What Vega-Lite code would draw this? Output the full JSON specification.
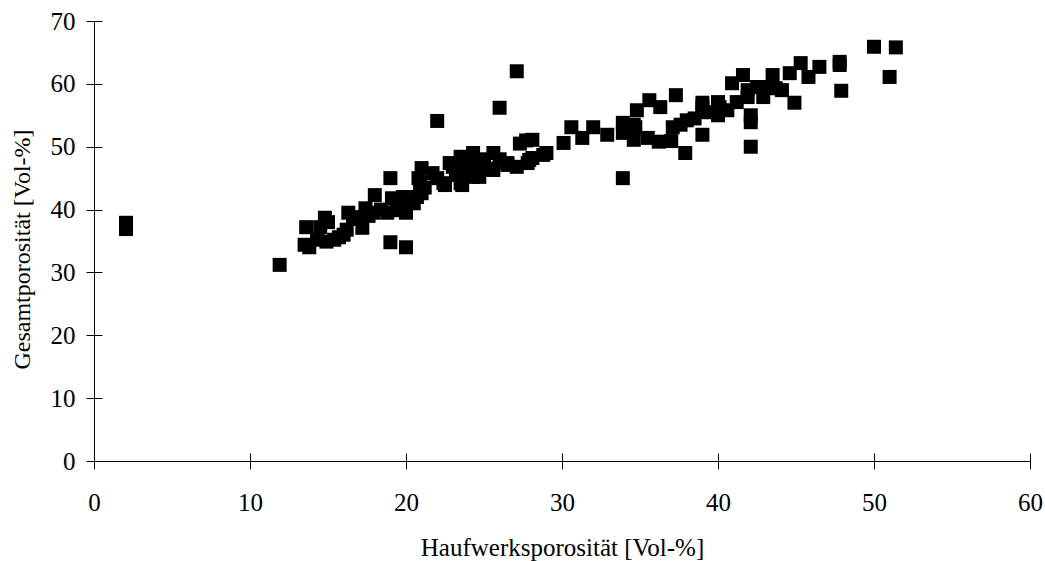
{
  "$schema": "https://vega.github.io/schema/vega-lite/v6.json",
  "width": 936,
  "height": 440,
  "autosize": "none",
  "padding": {"left": 94, "top": 21, "right": 15, "bottom": 100},
  "background": "white",
  "config": {
    "view": {"stroke": null},
    "font": "Liberation Serif"
  },
  "data": {
    "values": [
      {"h": 2.05, "g": 37.9}, {"h": 2.05, "g": 36.9}, {"h": 11.9, "g": 31.2},
      {"h": 13.5, "g": 34.4}, {"h": 13.6, "g": 37.2}, {"h": 13.8, "g": 34.0}, {"h": 14.3, "g": 35.2},
      {"h": 14.5, "g": 37.2}, {"h": 14.8, "g": 38.7}, {"h": 14.9, "g": 34.9}, {"h": 15.0, "g": 38.0},
      {"h": 15.4, "g": 35.2}, {"h": 15.7, "g": 35.6}, {"h": 16.0, "g": 36.0}, {"h": 16.2, "g": 36.8},
      {"h": 16.3, "g": 39.5}, {"h": 16.6, "g": 38.5}, {"h": 17.1, "g": 38.8}, {"h": 17.2, "g": 37.1},
      {"h": 17.4, "g": 40.2}, {"h": 17.6, "g": 39.0}, {"h": 17.9, "g": 39.5}, {"h": 18.0, "g": 42.3},
      {"h": 18.4, "g": 40.0}, {"h": 18.8, "g": 39.5}, {"h": 19.0, "g": 45.0}, {"h": 19.0, "g": 34.8},
      {"h": 19.1, "g": 41.8}, {"h": 19.4, "g": 39.9}, {"h": 19.6, "g": 41.0}, {"h": 19.8, "g": 42.0},
      {"h": 20.0, "g": 39.5}, {"h": 20.0, "g": 34.0}, {"h": 20.1, "g": 41.5}, {"h": 20.5, "g": 41.0},
      {"h": 20.7, "g": 42.0}, {"h": 21.0, "g": 42.6}, {"h": 20.9, "g": 44.2}, {"h": 21.0, "g": 46.6},
      {"h": 20.8, "g": 45.0}, {"h": 21.2, "g": 43.5}, {"h": 21.7, "g": 45.8}, {"h": 22.0, "g": 45.0},
      {"h": 22.0, "g": 54.1}, {"h": 22.4, "g": 44.2}, {"h": 22.5, "g": 43.9}, {"h": 22.8, "g": 47.4},
      {"h": 23.0, "g": 46.8}, {"h": 23.2, "g": 45.5}, {"h": 23.5, "g": 44.2}, {"h": 23.6, "g": 43.9},
      {"h": 23.7, "g": 46.3}, {"h": 23.5, "g": 48.4}, {"h": 24.0, "g": 47.0}, {"h": 24.3, "g": 45.2},
      {"h": 24.3, "g": 49.0}, {"h": 24.7, "g": 47.4}, {"h": 24.7, "g": 45.2}, {"h": 25.0, "g": 48.0},
      {"h": 25.2, "g": 46.5}, {"h": 25.6, "g": 46.3}, {"h": 25.6, "g": 49.0}, {"h": 26.0, "g": 48.0},
      {"h": 26.0, "g": 56.2}, {"h": 26.5, "g": 47.4}, {"h": 26.5, "g": 47.1}, {"h": 27.1, "g": 46.8},
      {"h": 27.1, "g": 62.0}, {"h": 27.3, "g": 50.5}, {"h": 27.7, "g": 51.0}, {"h": 27.9, "g": 47.9},
      {"h": 27.8, "g": 47.4}, {"h": 28.1, "g": 51.1}, {"h": 28.1, "g": 48.2}, {"h": 28.8, "g": 48.7},
      {"h": 29.0, "g": 49.0}, {"h": 30.1, "g": 50.6}, {"h": 30.6, "g": 53.1}, {"h": 31.3, "g": 51.4},
      {"h": 32.0, "g": 53.1}, {"h": 32.9, "g": 51.9}, {"h": 33.9, "g": 53.8}, {"h": 33.9, "g": 52.2},
      {"h": 33.9, "g": 45.0}, {"h": 34.6, "g": 53.5}, {"h": 34.7, "g": 53.1}, {"h": 34.6, "g": 51.1},
      {"h": 34.8, "g": 55.8}, {"h": 35.5, "g": 51.4}, {"h": 35.6, "g": 57.4}, {"h": 36.2, "g": 50.8},
      {"h": 36.3, "g": 56.3}, {"h": 37.0, "g": 50.9}, {"h": 37.1, "g": 53.1}, {"h": 37.3, "g": 58.2},
      {"h": 37.6, "g": 53.5}, {"h": 37.9, "g": 49.0}, {"h": 38.0, "g": 54.2}, {"h": 38.5, "g": 54.5},
      {"h": 39.0, "g": 57.0}, {"h": 39.0, "g": 55.5}, {"h": 39.0, "g": 51.9}, {"h": 39.0, "g": 56.3},
      {"h": 39.5, "g": 55.5}, {"h": 40.0, "g": 57.1}, {"h": 40.0, "g": 55.0}, {"h": 40.1, "g": 56.3},
      {"h": 40.6, "g": 55.8}, {"h": 40.9, "g": 60.1}, {"h": 41.2, "g": 57.1}, {"h": 41.6, "g": 61.4},
      {"h": 41.9, "g": 57.9}, {"h": 41.9, "g": 59.0}, {"h": 42.1, "g": 55.0}, {"h": 42.1, "g": 53.9},
      {"h": 42.1, "g": 50.0}, {"h": 42.5, "g": 59.5}, {"h": 42.9, "g": 59.5}, {"h": 42.9, "g": 57.9},
      {"h": 43.5, "g": 61.4}, {"h": 43.7, "g": 59.3}, {"h": 44.1, "g": 59.0}, {"h": 44.6, "g": 61.7},
      {"h": 44.9, "g": 57.0}, {"h": 45.3, "g": 63.3}, {"h": 45.8, "g": 61.1}, {"h": 46.5, "g": 62.7},
      {"h": 47.8, "g": 63.5}, {"h": 47.8, "g": 63.0}, {"h": 47.9, "g": 58.9}, {"h": 50.0, "g": 65.9},
      {"h": 51.0, "g": 61.1}, {"h": 51.4, "g": 65.8}
    ]
  },
  "layer": [
    {
      "mark": {"type": "point", "shape": "square", "filled": true, "size": 196, "color": "black", "opacity": 1},
      "encoding": {
        "x": {
          "field": "h", "type": "quantitative",
          "scale": {"domain": [0, 60], "nice": false, "zero": false},
          "axis": {
            "orient": "bottom",
            "title": "Haufwerksporosität [Vol-%]",
            "values": [0, 10, 20, 30, 40, 50, 60],
            "grid": false,
            "domainColor": "black", "tickColor": "black",
            "tickSize": 8,
            "labelFont": "Liberation Serif", "labelFontSize": 25, "labelColor": "black",
            "labelBaseline": "alphabetic", "labelPadding": 41,
            "labelFlush": false, "labelOverlap": false,
            "titleFont": "Liberation Serif", "titleFontSize": 25, "titleFontWeight": "normal", "titleColor": "black",
            "titleBaseline": "alphabetic", "titleY": 94
          }
        },
        "y": {
          "field": "g", "type": "quantitative",
          "scale": {"domain": [0, 70], "nice": false, "zero": false},
          "axis": {
            "orient": "left",
            "title": "Gesamtporosität [Vol-%]",
            "values": [0, 10, 20, 30, 40, 50, 60, 70],
            "grid": false,
            "domainColor": "black", "tickColor": "black",
            "tickSize": 8,
            "labelFont": "Liberation Serif", "labelFontSize": 25, "labelColor": "black",
            "labelPadding": 11, "labelFlush": false, "labelOverlap": false,
            "titleFont": "Liberation Serif", "titleFontSize": 24, "titleFontWeight": "normal", "titleColor": "black",
            "titleAngle": -90, "titleBaseline": "middle", "titleAlign": "center",
            "titleX": -72, "titleY": 228
          }
        }
      }
    },
    {
      "mark": {"type": "point", "opacity": 0},
      "encoding": {
        "x": {
          "field": "h", "type": "quantitative",
          "scale": {"domain": [0, 60], "nice": false, "zero": false},
          "axis": {"orient": "bottom", "title": null, "labels": false, "domain": false, "grid": false,
                   "values": [0, 10, 20, 30, 40, 50, 60], "tickSize": -8, "tickColor": "black"}
        },
        "y": {
          "field": "g", "type": "quantitative",
          "scale": {"domain": [0, 70], "nice": false, "zero": false},
          "axis": {"orient": "left", "title": null, "labels": false, "domain": false, "grid": false,
                   "values": [0, 10, 20, 30, 40, 50, 60, 70], "tickSize": -8, "tickColor": "black"}
        }
      }
    }
  ],
  "resolve": {"axis": {"x": "independent", "y": "independent"}}
}
